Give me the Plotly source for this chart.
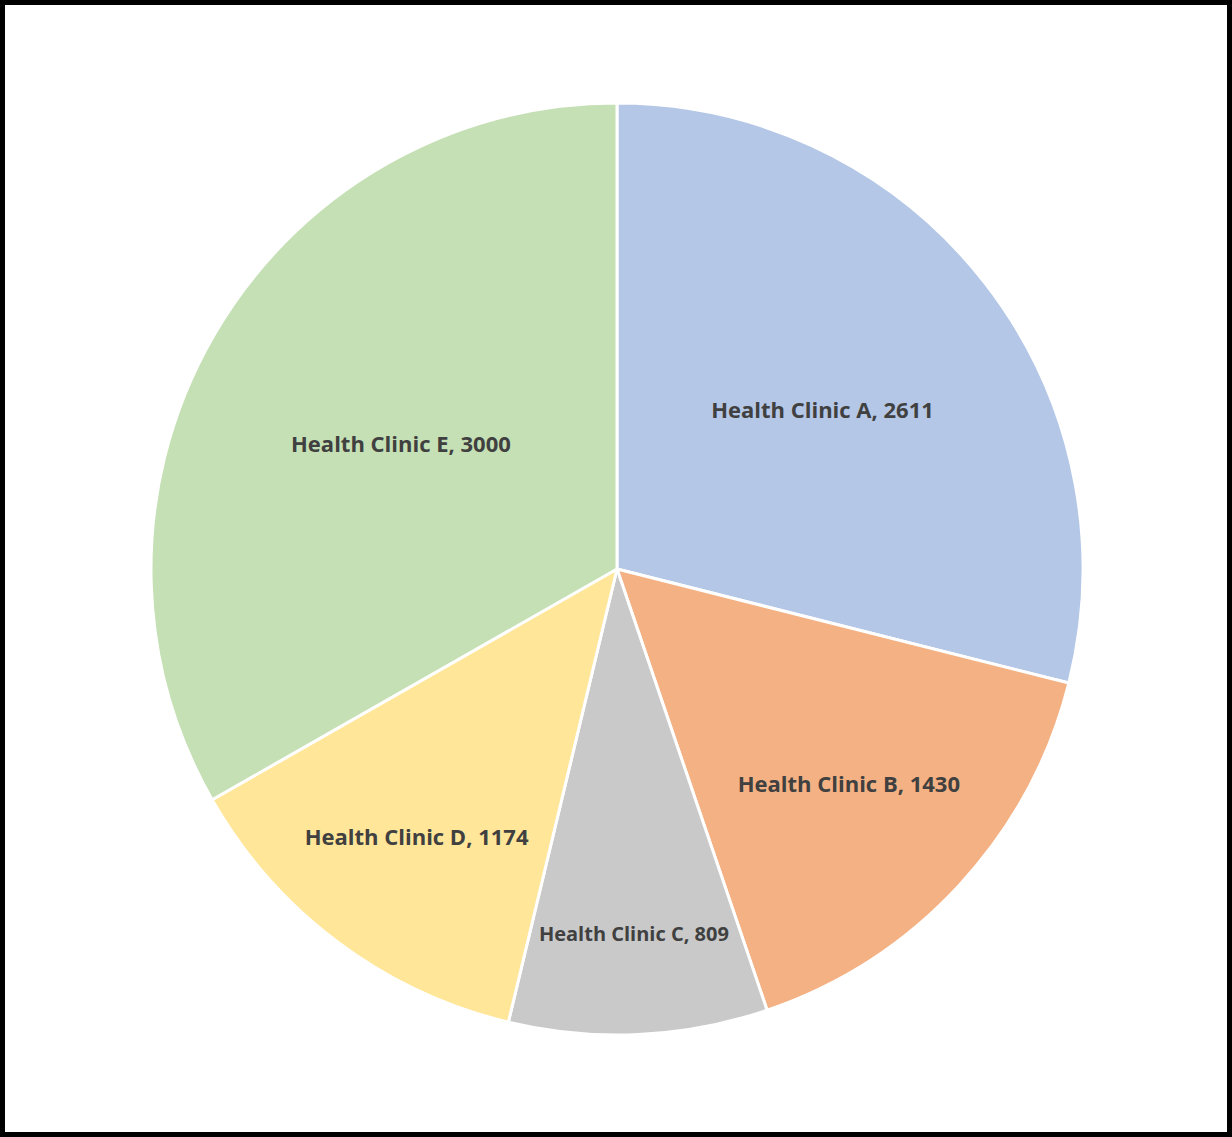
import plotly.graph_objects as go

clinics = ["Health Clinic A", "Health Clinic B", "Health Clinic C", "Health Clinic D", "Health Clinic E"]
visits = [2611, 1430, 809, 1174, 3000]
colors = ["#B4C7E7", "#F4B183", "#C9C9C9", "#FFE699", "#C5E0B4"]
label_sizes = [22, 22, 20, 22, 22]

W, H = 1232, 1137
fig = go.Figure(go.Pie(
    labels=clinics,
    values=visits,
    sort=False,
    direction="clockwise",
    rotation=0,
    marker=dict(colors=colors, line=dict(color="white", width=3)),
    texttemplate="<b>%{label}, %{value}</b>",
    textposition="inside",
    insidetextorientation="horizontal",
    textfont=dict(family="Open Sans, sans-serif", size=label_sizes, color="#404040"),
    domain=dict(x=[151 / W, 1083 / W], y=[102 / H, 1034 / H]),
    showlegend=False,
    hoverinfo="label+value",
))
fig.update_layout(
    width=W, height=H,
    margin=dict(l=0, r=0, t=0, b=0),
    paper_bgcolor="white",
    plot_bgcolor="white",
    shapes=[dict(type="rect", xref="paper", yref="paper",
                 x0=2.5 / W, x1=1 - 2.5 / W, y0=2.5 / H, y1=1 - 2.5 / H,
                 line=dict(color="black", width=5), fillcolor="rgba(0,0,0,0)")],
)
fig.write_html("out.html", config={"displayModeBar": False},
               post_script="document.body.style.margin='0';document.body.style.overflow='hidden';")
